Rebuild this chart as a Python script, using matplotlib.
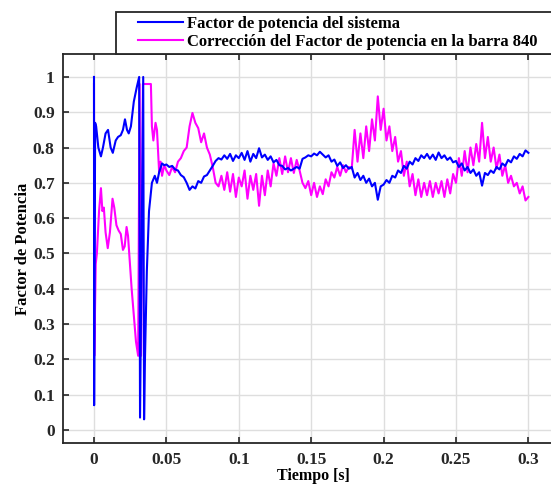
import numpy as np
import matplotlib
matplotlib.use('Agg')
import matplotlib.pyplot as plt
from matplotlib.patches import Rectangle

plt.rcParams['font.family'] = ['Liberation Serif', 'DejaVu Serif']
plt.rcParams['font.weight'] = 'bold'

# transient part (irregular sampling)
t_sys_ini = [0.0, 0.0001, 0.0008, 0.0015, 0.0030, 0.0048, 0.0062, 0.0080, 0.0097, 0.0115,
             0.0130, 0.0150, 0.0166, 0.0185, 0.0200, 0.0214, 0.0228, 0.0240, 0.0255, 0.0275,
             0.0295, 0.0312, 0.0318, 0.0340, 0.0346, 0.0352, 0.0365, 0.0380, 0.0400, 0.0420,
             0.0435, 0.0450, 0.0470, 0.0485]
pf_sys_ini = [1.0, 0.07, 0.87, 0.86, 0.80, 0.775, 0.80, 0.84, 0.85, 0.80,
              0.785, 0.82, 0.83, 0.835, 0.85, 0.88, 0.85, 0.84, 0.86, 0.93,
              0.97, 1.0, 0.035, 1.0, 0.03, 0.2, 0.45, 0.62, 0.70, 0.72,
              0.70, 0.73, 0.755, 0.75]

t_corr_ini = [0.0, 0.0002, 0.0012, 0.0020, 0.0035, 0.0048, 0.0058, 0.0068, 0.0080, 0.0095,
              0.0110, 0.0128, 0.0140, 0.0155, 0.0170, 0.0185, 0.0200, 0.0212, 0.0225, 0.0235,
              0.0260, 0.0290, 0.0305, 0.0315, 0.0325, 0.0338, 0.0393, 0.0400, 0.0410, 0.0425,
              0.0435, 0.0450, 0.0460, 0.0470, 0.0485]
pf_corr_ini = [0.98, 0.21, 0.47, 0.50, 0.62, 0.685, 0.62, 0.63, 0.56, 0.515,
               0.56, 0.655, 0.63, 0.58, 0.565, 0.555, 0.51, 0.52, 0.575, 0.55,
               0.40, 0.25, 0.21, 0.98, 0.21, 0.98, 0.98, 0.86, 0.82, 0.87,
               0.85, 0.73, 0.76, 0.72, 0.75]

# steady part, sampled every 2 ms from 0.05 s to 0.30 s
t_steady = np.round(np.arange(0.05, 0.3001, 0.002), 4)
pf_sys = [0.752, 0.745, 0.748, 0.738, 0.735, 0.722, 0.716, 0.700, 0.680, 0.690,
          0.684, 0.705, 0.700, 0.718, 0.722, 0.735, 0.748, 0.762, 0.770, 0.766,
          0.778, 0.768, 0.782, 0.762, 0.778, 0.770, 0.785, 0.765, 0.790, 0.760,
          0.782, 0.770, 0.798, 0.772, 0.780, 0.765, 0.775, 0.758, 0.765, 0.750,
          0.748, 0.738, 0.742, 0.735, 0.740, 0.745, 0.740, 0.768, 0.772, 0.778,
          0.775, 0.783, 0.778, 0.788, 0.780, 0.772, 0.778, 0.760, 0.766, 0.748,
          0.758, 0.742, 0.750, 0.740, 0.745, 0.715, 0.728, 0.708, 0.720, 0.700,
          0.712, 0.690, 0.700, 0.652, 0.690, 0.695, 0.708, 0.700, 0.720, 0.715,
          0.735, 0.728, 0.748, 0.740, 0.760, 0.752, 0.770, 0.762, 0.778, 0.770,
          0.782, 0.768, 0.780, 0.765, 0.786, 0.770, 0.778, 0.765, 0.772, 0.758,
          0.762, 0.745, 0.755, 0.735, 0.745, 0.728, 0.738, 0.720, 0.730, 0.692,
          0.728, 0.722, 0.735, 0.728, 0.745, 0.738, 0.755, 0.748, 0.765, 0.758,
          0.775, 0.768, 0.782, 0.775, 0.792, 0.785]
pf_corr = [0.735, 0.722, 0.745, 0.730, 0.760, 0.770, 0.790, 0.800, 0.860, 0.898,
           0.870, 0.855, 0.815, 0.840, 0.800, 0.780, 0.745, 0.700, 0.690, 0.720,
           0.680, 0.730, 0.675, 0.725, 0.660, 0.715, 0.690, 0.735, 0.655, 0.720,
           0.680, 0.725, 0.635, 0.720, 0.665, 0.735, 0.690, 0.755, 0.720, 0.770,
           0.725, 0.775, 0.730, 0.770, 0.728, 0.765, 0.735, 0.700, 0.685, 0.705,
           0.665, 0.700, 0.660, 0.690, 0.668, 0.710, 0.690, 0.730, 0.715, 0.745,
           0.720, 0.750, 0.730, 0.745, 0.740, 0.850, 0.760, 0.840, 0.770, 0.860,
           0.790, 0.880, 0.820, 0.945, 0.850, 0.910, 0.820, 0.860, 0.790, 0.830,
           0.760, 0.790, 0.720, 0.760, 0.690, 0.725, 0.665, 0.710, 0.660, 0.700,
           0.665, 0.705, 0.660, 0.700, 0.670, 0.705, 0.660, 0.710, 0.670, 0.725,
           0.700, 0.770, 0.720, 0.790, 0.730, 0.800, 0.750, 0.810, 0.760, 0.870,
           0.770, 0.830, 0.760, 0.800, 0.740, 0.780, 0.720, 0.750, 0.700, 0.720,
           0.690, 0.700, 0.670, 0.690, 0.650, 0.660]

t_sys = list(t_sys_ini) + list(t_steady)
y_sys = pf_sys_ini + pf_sys
t_corr = list(t_corr_ini) + list(t_steady)
y_corr = pf_corr_ini + pf_corr

xticks = [0, 0.05, 0.1, 0.15, 0.2, 0.25, 0.3]
xtick_labels = ['0', '0.05', '0.1', '0.15', '0.2', '0.25', '0.3']
yticks = [0, 0.1, 0.2, 0.3, 0.4, 0.5, 0.6, 0.7, 0.8, 0.9, 1]
ytick_labels = ['0', '0.1', '0.2', '0.3', '0.4', '0.5', '0.6', '0.7', '0.8', '0.9', '1']

W, H = 551, 484
fig = plt.figure(figsize=(W / 100, H / 100), dpi=100)
# axes runs past the right border of the picture, like the cropped original
ax = fig.add_axes([63 / W, 1 - 443 / H, 0.91, (443 - 54) / H])

l1, = ax.plot(t_sys, y_sys, color='#0000ff', lw=1.5, label='Factor de potencia del sistema')
l2, = ax.plot(t_corr, y_corr, color='#ff00ff', lw=1.5,
              label='Corrección del Factor de potencia en la barra 840')
l1.set_zorder(3)

x_per_px = 0.05 / 72.4
ax.set_xlim(-0.0214, -0.0214 + 0.91 * W * x_per_px)
ax.set_ylim(-0.037, 1.065)
ax.set_xticks(xticks)
ax.set_xticklabels(xtick_labels)
ax.set_yticks(yticks)
ax.set_yticklabels(ytick_labels)
ax.grid(True, color='#dedede', lw=1.0)
ax.set_axisbelow(True)
ax.tick_params(direction='in', top=True, right=False, length=4, width=1.2,
               colors='#262626', labelsize=12.5)
ax.tick_params(axis='x', pad=6.5)
ax.tick_params(axis='y', pad=6)
for s in ax.spines.values():
    s.set_color('#262626')
    s.set_linewidth(1.3)

ax.set_xlabel('Tiempo [s]', fontsize=11.5, fontweight='bold', labelpad=0)
ax.set_ylabel('Factor de Potencia', fontsize=12, fontweight='bold', labelpad=1)

# legend box, reaching past the right border
box = Rectangle((116 / W, 1 - 54 / H), 1.0, (54 - 12) / H, transform=fig.transFigure,
                facecolor='white', edgecolor='#262626', lw=1.3, zorder=5)
fig.add_artist(box)
leg = fig.legend(handles=[l1, l2], loc='upper left', bbox_to_anchor=(138 / W, 1 - 15.5 / H),
                 fontsize=12, frameon=False,
                 handlelength=2.7, handletextpad=0.25, borderpad=0,
                 labelspacing=0.17, borderaxespad=0)
leg.set_zorder(6)
for txt in leg.get_texts():
    txt.set_fontweight('bold')

fig.savefig('out.png', dpi=100)
